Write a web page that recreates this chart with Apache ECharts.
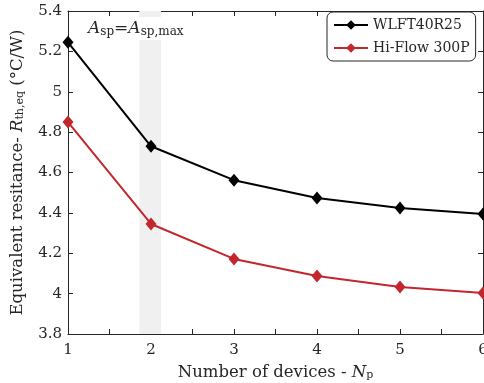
<!DOCTYPE html>
<html><head><meta charset="utf-8">
<script src="https://cdn.jsdelivr.net/npm/echarts@6/dist/echarts.min.js"></script>
<style>html,body{margin:0;padding:0;background:#fff}#c{width:484px;height:383px}</style>
</head><body><div id="c"></div>
<script>
const devices = [1, 2, 3, 4, 5, 6];
const wlft = [5.245, 4.73, 4.562, 4.474, 4.424, 4.394];
const hiflow = [4.85, 4.345, 4.172, 4.087, 4.033, 4.003];
const seriesNames = ['WLFT40R25', 'Hi-Flow 300P'];
const bandRange = [1.86, 2.12];
const yTicks = {min: 3.8, max: 5.4, interval: 0.2};

const FONT = 'DejaVu Serif';
const TXT = '#262626';
const chart = echarts.init(document.getElementById('c'), null, {renderer: 'canvas'});
function pairs(xs, ys){ return xs.map((x,i)=>[x, ys[i]]); }
const axCommon = {
  axisLine: {lineStyle: {color: '#262626', width: 1}},
  axisTick: {inside: true, length: 5, lineStyle: {color: '#262626'}},
  splitLine: {show: false}
};
const richName = {
  n: {fontFamily: FONT, fontSize: 16.5, color: TXT},
  i: {fontFamily: FONT, fontSize: 16.5, color: TXT, fontStyle: 'italic'},
  s: {fontFamily: FONT, fontSize: 11, color: TXT, verticalAlign: 'bottom', padding: [6,0,0,0]}
};
chart.setOption({
  animation: false,
  textStyle: {fontFamily: FONT},
  grid: {left: 68, right: 1, top: 11, bottom: 49, outerBoundsMode: 'none', containLabel: false},
  legend: {
    left: 327, top: 12, orient: 'vertical', width: 130,
    data: seriesNames,
    backgroundColor: '#fff', borderColor: '#262626', borderWidth: 1, borderRadius: 6,
    padding: [6, 6, 6, 6], itemGap: 9, itemWidth: 34, itemHeight: 12,
    textStyle: {fontFamily: FONT, fontSize: 14, color: TXT}
  },
  xAxis: [
    Object.assign({type: 'value', min: 1, max: 6, interval: 0.5, position: 'bottom',
      axisLabel: {fontFamily: FONT, fontSize: 15, color: TXT, margin: 9,
        formatter: v => Number.isInteger(v) ? String(v) : ''},
      name: '{n|Number of devices - }{i|N}{s|p}', nameLocation: 'middle', nameGap: 30,
      nameTextStyle: {rich: richName}}, axCommon),
    Object.assign({type: 'value', min: 1, max: 6, interval: 0.5, position: 'top',
      axisLabel: {show: false}}, axCommon)
  ],
  yAxis: [
    Object.assign({type: 'value', min: yTicks.min, max: yTicks.max, interval: yTicks.interval,
      axisLabel: {fontFamily: FONT, fontSize: 15, color: TXT, margin: 6,
        formatter: v => String(+v.toFixed(1))},
      name: '{n|Equivalent resitance- }{i|R}{s|th,eq}{n| (°C/W)}', nameLocation: 'middle', nameGap: 42,
      nameRotate: 90,
      nameTextStyle: {rich: richName}}, axCommon),
    Object.assign({type: 'value', min: yTicks.min, max: yTicks.max, interval: yTicks.interval,
      position: 'right', axisLabel: {show: false}}, axCommon)
  ],
  series: [
    {name: seriesNames[0], type: 'line', data: pairs(devices, wlft), symbol: 'diamond', symbolSize: [11, 13],
     itemStyle: {color: '#000'}, lineStyle: {color: '#000', width: 2}, z: 5,
     markArea: {silent: true, itemStyle: {color: '#f0f0f0'}, data: [[{xAxis: bandRange[0]}, {xAxis: bandRange[1]}]], z: 1}},
    {name: seriesNames[1], type: 'line', data: pairs(devices, hiflow), symbol: 'diamond', symbolSize: [11, 13],
     itemStyle: {color: '#c1272d'}, lineStyle: {color: '#c1272d', width: 2}, z: 5}
  ],
  graphic: [{
    type: 'text', left: 86, top: 17, z: 10,
    style: {
      text: '{i|A}{s|sp}{n|=}{i|A}{s|sp,max}',
      backgroundColor: '#fff', padding: [2, 2, 2, 2],
      rich: {
        n: {fontFamily: FONT, fontSize: 17, fill: TXT},
        i: {fontFamily: FONT, fontSize: 17, fill: TXT, fontStyle: 'italic'},
        s: {fontFamily: FONT, fontSize: 12, fill: TXT, verticalAlign: 'bottom', padding: [7,0,0,0]}
      }
    }
  }]
});
</script></body></html>
